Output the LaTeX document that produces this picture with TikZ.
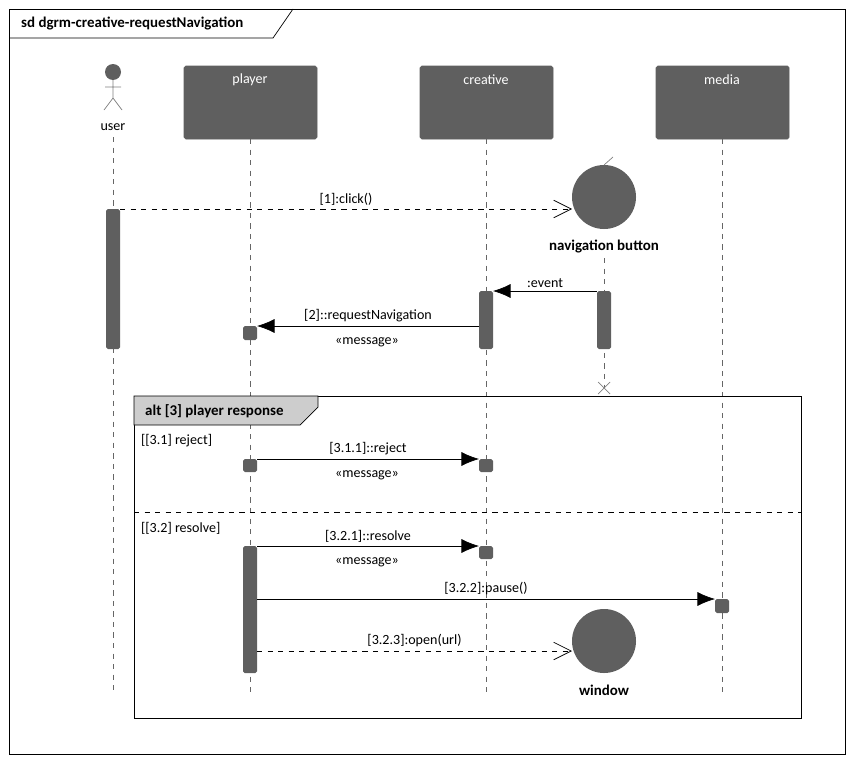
\documentclass[tikz,border=0pt]{standalone}
\usepackage{fontspec}
\setmainfont{Carlito}
\usetikzlibrary{arrows.meta,positioning,calc}
\definecolor{boxgray}{RGB}{95,95,95}
\definecolor{altgray}{RGB}{205,205,205}
\tikzset{
  lifebox/.style={fill=boxgray,draw=boxgray,rounded corners=1pt},
  lifeline/.style={dashed,draw=gray!80!black},
  actbar/.style={fill=boxgray,rounded corners=1pt},
  msg/.style={-{Latex[length=10pt,width=8pt]}},
  reply/.style={dashed,-{Straight Barb[length=10pt,width=10pt]}},
  lbl/.style={font=\fontsize{8}{10}\selectfont,inner sep=1pt}
}
\begin{document}
\begin{tikzpicture}[x=0.02cm,y=-0.02cm,font=\fontsize{8}{10}\selectfont]
            \useasboundingbox (0,0) rectangle (854,764);
            % frame
            \draw (9,9) rectangle (845,754);
            \draw (9,38) -- (273,38) -- (293,9);
            \node[anchor=west,font=\fontsize{8.5}{10}\selectfont\bfseries] at (15,24) {sd dgrm-creative-requestNavigation};
            % user actor
            \fill[boxgray] (113,72) circle (8);
            \draw[gray] (113,80) -- (113,98) (105,87) -- (121,87) (104,110) -- (113,98) -- (122,110);
            \node[lbl] (user) at (113,127) {user};
            % lifeline boxes
            \foreach \nm/\x in {player/250,creative/486,media/722}
            {
              \fill[lifebox] ({\x-66},66) rectangle ({\x+67},139);
              \node[lbl,text=white] (\nm) at (\x,80) {\nm};
            }
            % lifelines
            \draw[lifeline] (113,137) -- (113,695);
            \draw[lifeline] (250,139) -- (250,695);
            \draw[lifeline] (486,139) -- (486,695);
            \draw[lifeline] (722,139) -- (722,695);
            \draw[lifeline] (604,258) -- (604,388);
            \draw[gray] (598,382) -- (610,394) (598,394) -- (610,382);
            % navigation button
            \fill[boxgray] (604,197) circle (32);
            \draw[gray] (604,165) -- (613,157);
            \node[lbl,font=\fontsize{8.5}{10}\selectfont\bfseries] (navlbl) at (604,247) {navigation button};
            \coordinate (nav) at (572,209);
            % activation bars
            \fill[actbar] (106,209) rectangle (120,349);
            \fill[actbar] (479,291) rectangle (493,349);
            \fill[actbar] (597,291) rectangle (611,349);
            \fill[actbar] (243,326) rectangle (257,340);
            \coordinate (u1) at (120,209);
            \coordinate (n1) at (597,291);
            \coordinate (c1) at (493,291);
            \coordinate (c2) at (479,326);
            \coordinate (p1) at (257,326);
            \draw[reply] (u1) -- (nav) node[lbl,pos=0.5,above=1pt] {[1]:click()};
            \draw[msg] (n1) -- (c1) node[lbl,pos=0.5,above=1pt] {:event};
            \draw[msg] (c2) -- (p1) node[lbl,pos=0.5,above=1pt] {[2]::requestNavigation};
            \node[lbl] at (367,342) {«message»};
            % alt fragment
            \draw (134,396) rectangle (801,718);
            \filldraw[fill=altgray,draw=black] (134,396) -- (318,396) -- (318,407) -- (300,425) -- (134,425) -- cycle;
            \node[anchor=west,font=\fontsize{8.5}{10}\selectfont\bfseries] at (139,411) {alt [3] player response};
            \draw[dashed] (134,512) -- (801,512);
            \node[lbl,anchor=west] at (139,441) {[[3.1] reject]};
            \node[lbl,anchor=west] at (139,528) {[[3.2] resolve]};
            % reject
            \fill[actbar] (243,459) rectangle (257,472);
            \fill[actbar] (479,459) rectangle (493,472);
            \coordinate (p2) at (257,459);
            \coordinate (c3) at (479,459);
            \draw[msg] (p2) -- (c3) node[lbl,pos=0.5,above=1pt] {[3.1.1]::reject};
            \node[lbl] at (367,475) {«message»};
            % resolve
            \fill[actbar] (243,546) rectangle (257,673);
            \fill[actbar] (479,546) rectangle (493,559);
            \fill[actbar] (715,599) rectangle (729,613);
            \coordinate (p3) at (257,546);
            \coordinate (c4) at (479,546);
            \coordinate (p4) at (257,599);
            \coordinate (m1) at (715,599);
            \coordinate (p5) at (257,651);
            \coordinate (win) at (572,651);
            \draw[msg] (p3) -- (c4) node[lbl,pos=0.5,above=1pt] {[3.2.1]::resolve};
            \node[lbl] at (367,562) {«message»};
            \draw[msg] (p4) -- (m1) node[lbl,pos=0.5,above=1pt] {[3.2.2]:pause()};
            \fill[boxgray] (604,641) circle (32);
            \node[lbl,font=\fontsize{8.5}{10}\selectfont\bfseries] at (604,690) {window};
            \draw[reply] (p5) -- (win) node[lbl,pos=0.5,above=1pt] {[3.2.3]:open(url)};
        \end{tikzpicture}
\end{document}
